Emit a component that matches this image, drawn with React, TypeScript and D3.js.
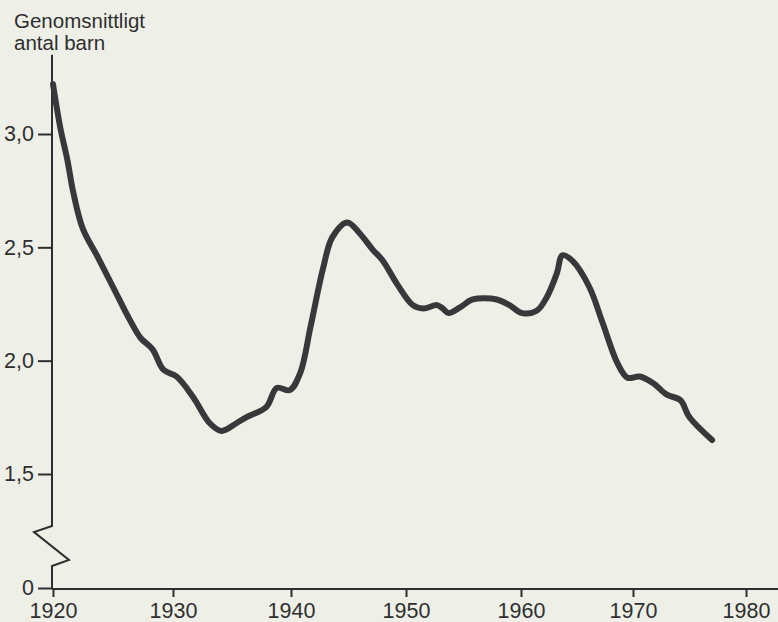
import { useEffect, useRef } from 'react'
import * as d3 from 'd3'

// Sammanfattad fruktsamhet, Sverige 1920-1977
const years = [
  1920.0, 1920.6, 1921.2, 1921.7, 1922.5, 1923.7, 1925.0, 1926.4, 1927.3, 1928.3,
  1929.2, 1930.3, 1931.7, 1933.1, 1934.1, 1935.4, 1936.2, 1937.9, 1938.8, 1939.9,
  1940.8, 1941.7, 1942.8, 1943.6, 1944.9, 1946.0, 1947.1, 1948.0, 1949.2, 1950.6,
  1951.5, 1952.7, 1953.2, 1953.7, 1954.7, 1955.8, 1957.9, 1959.0, 1960.1, 1961.4,
  1962.3, 1963.2, 1963.7, 1964.6, 1966.1, 1967.3, 1968.6, 1969.5, 1970.6, 1971.8,
  1973.0, 1974.2, 1975.0, 1977.0,
]
const children = [
  3.22, 3.03, 2.885, 2.74, 2.58, 2.46, 2.325, 2.18, 2.1, 2.05,
  1.96, 1.93, 1.84, 1.725, 1.69, 1.725, 1.75, 1.795, 1.88, 1.87,
  1.945, 2.15, 2.41, 2.545, 2.61, 2.56, 2.49, 2.44, 2.34, 2.245,
  2.23, 2.245, 2.23, 2.21, 2.235, 2.27, 2.27, 2.245, 2.21, 2.22,
  2.28, 2.385, 2.465, 2.44, 2.325, 2.165, 1.99, 1.925, 1.93, 1.9,
  1.85, 1.825, 1.75, 1.65,
]
const xTicks = [1920, 1930, 1940, 1950, 1960, 1970, 1980]
const yTicks = [0, 1.5, 2.0, 2.5, 3.0]
const titleLines = ['Genomsnittligt', 'antal barn']

export default function App() {
  const svgRef = useRef<SVGSVGElement | null>(null)
  const width = 778
  const height = 622

  useEffect(() => {
    if (!svgRef.current) return
    const ink = '#2e2e30'
    const font = '"Liberation Sans", Arial, sans-serif'
    // the printed page is slightly warped, so the decades are not evenly spaced
    const x = d3.scaleLinear()
      .domain(xTicks)
      .range([53, 173, 291, 406, 521, 633, 746])
    // broken axis: 0 sits just below 1,5
    const y = d3.scaleLinear()
      .domain([0, 1.5, 3.0])
      .range([588, 474, 134])

    const svg = d3.select(svgRef.current)
    svg.selectAll('*').remove()

    svg.append('rect')
      .attr('width', width)
      .attr('height', height)
      .attr('fill', '#eef0e7')

    // title
    svg.append('g')
      .selectAll('text')
      .data(titleLines)
      .join('text')
      .attr('x', 14)
      .attr('y', (d, i) => 27.5 + i * 22.5)
      .style('font-family', font)
      .style('font-size', '20.5px')
      .style('fill', ink)
      .text((d) => d)

    // y axis with the zigzag break
    const ax = x(1920) - 1
    const y0 = y(0)
    const axisPath = d3.path()
    axisPath.moveTo(ax, y(3.35))
    axisPath.lineTo(ax, y0 - 62)
    axisPath.lineTo(ax - 18, y0 - 56)
    axisPath.lineTo(ax + 17, y0 - 28)
    axisPath.lineTo(ax, y0 - 22)
    axisPath.lineTo(ax, y0 + 1)
    svg.append('path')
      .attr('d', axisPath.toString())
      .attr('fill', 'none')
      .attr('stroke', ink)
      .attr('stroke-width', 2)

    const yAxis = svg.append('g')
      .attr('transform', `translate(${ax},0)`)
      .call(d3.axisLeft(y)
        .tickValues(yTicks)
        .tickSize(14)
        .tickPadding(4)
        .tickFormat((d) => (+d === 0 ? '0' : d3.format('.1f')(+d).replace('.', ','))))
    yAxis.select('.domain').remove()
    yAxis.selectAll('line').attr('stroke', ink).attr('stroke-width', 2)
    yAxis.selectAll('text')
      .style('font-family', font)
      .style('font-size', '21.5px')
      .style('fill', ink)

    // x axis
    svg.append('line')
      .attr('x1', ax)
      .attr('x2', width)
      .attr('y1', y0 + 1)
      .attr('y2', y0 + 1)
      .attr('stroke', ink)
      .attr('stroke-width', 2)

    const xAxis = svg.append('g')
      .attr('transform', `translate(0,${y0 + 1})`)
      .call(d3.axisBottom(x)
        .tickValues(xTicks)
        .tickSize(8)
        .tickPadding(6)
        .tickFormat(d3.format('d')))
    xAxis.select('.domain').remove()
    xAxis.selectAll('line').attr('stroke', ink).attr('stroke-width', 2)
    xAxis.selectAll('text')
      .style('font-family', font)
      .style('font-size', '21.5px')
      .style('fill', ink)

    // the curve
    const points: [number, number][] = years.map((yr, i) => [yr, children[i]])
    const line = d3.line<[number, number]>()
      .x((d) => x(d[0]))
      .y((d) => y(d[1]))
      .curve(d3.curveCatmullRom.alpha(0.5))
    svg.append('path')
      .datum(points)
      .attr('d', line)
      .attr('fill', 'none')
      .attr('stroke', '#38383b')
      .attr('stroke-width', 6)
      .attr('stroke-linecap', 'round')
      .attr('stroke-linejoin', 'round')
  }, [])

  return (
    <svg
      ref={svgRef}
      width={width}
      height={height}
      style={{ position: 'absolute', left: 0, top: 0, display: 'block' }}
    />
  )
}
